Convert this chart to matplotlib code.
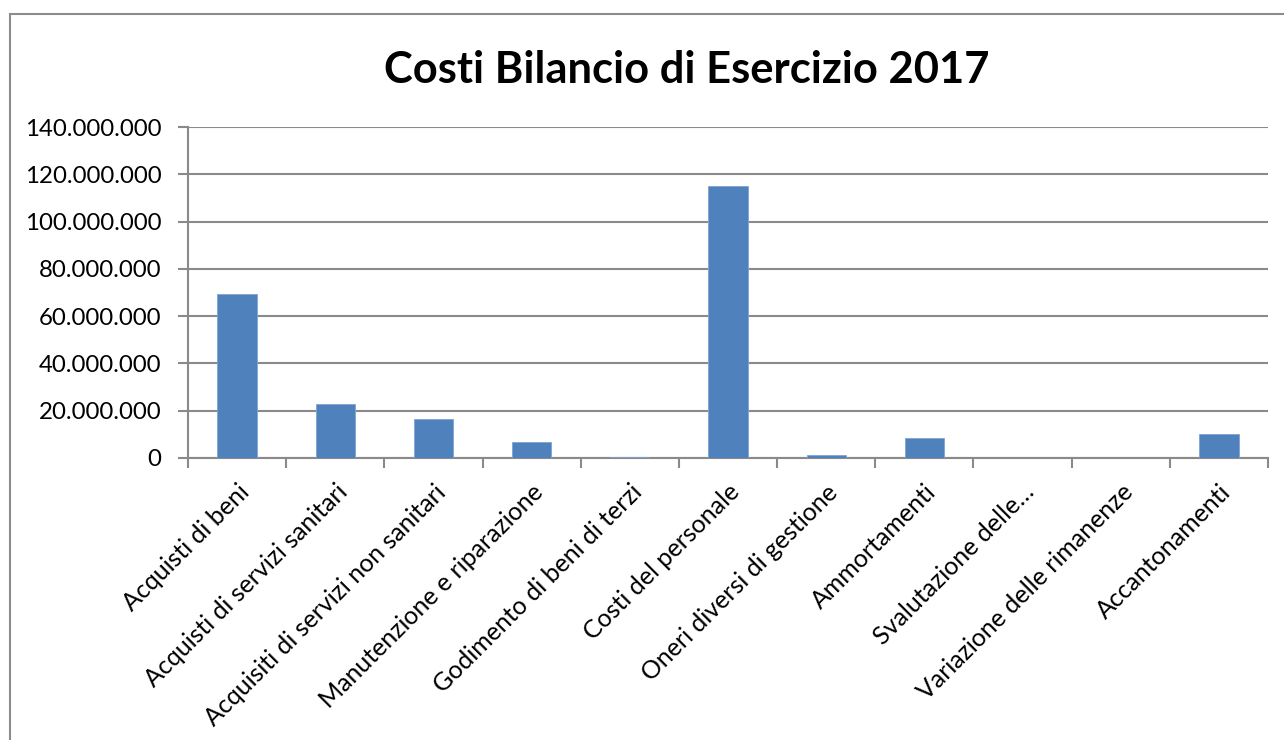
import matplotlib
matplotlib.use("Agg")
import matplotlib.pyplot as plt
from matplotlib.patches import Rectangle
from matplotlib.ticker import FuncFormatter, FixedLocator
import numpy as np

categories = [
    "Acquisti di beni",
    "Acquisti di servizi sanitari",
    "Acquisiti di servizi non sanitari",
    "Manutenzione e riparazione",
    "Godimento di beni di terzi",
    "Costi del personale",
    "Oneri diversi di gestione",
    "Ammortamenti",
    "Svalutazione delle…",
    "Variazione delle rimanenze",
    "Accantonamenti",
]
values = [69200000, 22800000, 16500000, 6700000, 500000, 115000000,
          1400000, 8600000, 0, 0, 10000000]
yticks = [0, 20000000, 40000000, 60000000, 80000000, 100000000, 120000000, 140000000]
title = "Costi Bilancio di Esercizio 2017"

plt.rcParams['font.family'] = ['Lato', 'DejaVu Sans']

fig = plt.figure(figsize=(12.84, 7.40), dpi=100)
fig.patches.append(Rectangle((10/1284, -0.05), 1.1, 1 - 14/740 + 0.05,
                             transform=fig.transFigure, fill=False,
                             edgecolor='#8c8c8c', linewidth=1.5))

ax = fig.add_axes([188/1284, 1 - 458/740, 1080/1284, 331/740])
x = np.arange(len(categories))
ax.bar(x, values, width=0.4, color='#4F81BD', edgecolor='#7fa3d3', linewidth=0.6, zorder=3)

ax.set_xlim(-0.5, len(categories) - 0.5)
ax.set_ylim(0, 140000000)
ax.yaxis.set_major_locator(FixedLocator(yticks))
ax.yaxis.set_major_formatter(FuncFormatter(lambda v, p: f"{int(v):,}".replace(",", ".")))
ax.grid(axis='y', color='#8a8a8a', linewidth=1.5, zorder=0)

for s in ['top', 'right']:
    ax.spines[s].set_visible(False)
ax.spines['left'].set_color('#8a8a8a')
ax.spines['left'].set_linewidth(1.5)
ax.spines['bottom'].set_color('#8a8a8a')
ax.spines['bottom'].set_linewidth(1.5)

ax.tick_params(axis='y', length=7, width=1.5, color='#8a8a8a', labelsize=17.3, pad=12)
ax.set_xticks(x)
ax.set_xticklabels(categories, rotation=45, ha='right', rotation_mode='anchor', fontsize=18)
ax.tick_params(axis='x', which='major', length=0, pad=16)
ax.set_xticks(np.arange(-0.5, len(categories) + 0.5, 1), minor=True)
ax.tick_params(axis='x', which='minor', length=7, width=1.5, color='#8a8a8a')

fig.text(687/1284, 1 - 70/740, title, ha='center', va='center',
         fontsize=31.3, fontweight='bold')

fig.savefig("out.png", dpi=100)
